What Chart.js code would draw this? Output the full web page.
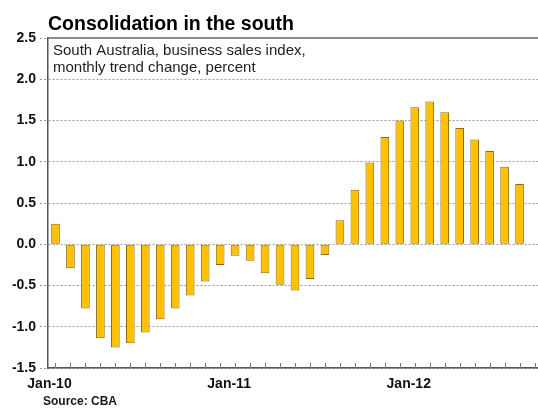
<!DOCTYPE html>
<html>
<head>
<meta charset="utf-8">
<script src="https://cdn.jsdelivr.net/npm/chart.js@4"></script>
<style>
html, body { margin: 0; padding: 0; overflow: hidden; background: #fff; }
canvas { display: block; }
</style>
</head>
<body>
<canvas id="c" width="542" height="408"></canvas>
<script>
// ---- data ----
const chartTitle = 'Consolidation in the south';
const subtitleLines = ['South Australia, business sales index,', 'monthly trend change, percent'];
const sourceText = 'Source: CBA';
const months = [
  'Jan-10','Feb-10','Mar-10','Apr-10','May-10','Jun-10','Jul-10','Aug-10','Sep-10','Oct-10','Nov-10','Dec-10',
  'Jan-11','Feb-11','Mar-11','Apr-11','May-11','Jun-11','Jul-11','Aug-11','Sep-11','Oct-11','Nov-11','Dec-11',
  'Jan-12','Feb-12','Mar-12','Apr-12','May-12','Jun-12','Jul-12','Aug-12','Sep-12'
];
const salesChange = [
  0.25, -0.29, -0.78, -1.14, -1.25, -1.20, -1.07, -0.91, -0.78, -0.62, -0.45, -0.25,
  -0.14, -0.20, -0.35, -0.49, -0.56, -0.42, -0.13, 0.29, 0.66, 0.99, 1.30, 1.50,
  1.66, 1.73, 1.60, 1.41, 1.27, 1.13, 0.94, 0.73, null
];
const yMin = -1.5, yMax = 2.5, yStep = 0.5;

const FONT = "'Liberation Sans', Arial, sans-serif";

const decor = {
  id: 'decor',
  afterDatasetsDraw(chart) {
    const {ctx, chartArea, scales} = chart;
    const x = scales.x;
    ctx.save();
    ctx.strokeStyle = '#666';
    ctx.lineWidth = 1.5;
    ctx.beginPath();
    ctx.moveTo(chartArea.left, chartArea.top);
    ctx.lineTo(chartArea.right, chartArea.top);
    ctx.stroke();
    ctx.strokeStyle = '#777';
    ctx.lineWidth = 1;
    for (let i = 0; i < x.ticks.length; i++) {
      const px = Math.round(x.getPixelForTick(i)) + 0.5;
      ctx.beginPath();
      ctx.moveTo(px, chartArea.bottom);
      ctx.lineTo(px, chartArea.bottom - 5);
      ctx.stroke();
    }
    ctx.restore();
  },
  afterDraw(chart) {
    const {ctx} = chart;
    ctx.save();
    ctx.textAlign = 'left';
    ctx.textBaseline = 'alphabetic';
    ctx.fillStyle = '#000';
    ctx.font = 'bold 19.5px ' + FONT;
    ctx.fillText(chartTitle, 48, 29.5);
    ctx.fillStyle = '#1e1e1e';
    ctx.font = '15px ' + FONT;
    ctx.fillText(subtitleLines[0], 53, 55);
    ctx.fillText(subtitleLines[1], 53, 72);
    ctx.fillStyle = '#1a1a1a';
    ctx.font = 'bold 12px ' + FONT;
    ctx.fillText(sourceText, 43, 405);
    ctx.restore();
  }
};

new Chart(document.getElementById('c'), {
  type: 'bar',
  data: {
    labels: months,
    datasets: [{
      data: salesChange,
      backgroundColor: '#FFC000',
      borderColor: '#8A6D12',
      borderWidth: 1,
      borderSkipped: false,
      barPercentage: 0.58,
      categoryPercentage: 1.0
    }]
  },
  options: {
    responsive: false,
    animation: false,
    layout: { padding: { top: 38, left: 0, right: 0, bottom: 0 } },
    plugins: { legend: { display: false }, tooltip: { enabled: false }, title: { display: false } },
    scales: {
      x: {
        offset: true,
        grid: { display: false },
        border: { display: true, color: '#555', width: 1.5 },
        ticks: {
          autoSkip: false,
          maxRotation: 0,
          minRotation: 0,
          padding: 0,
          labelOffset: -6,
          color: '#111',
          font: { family: FONT, size: 14, weight: 'bold' },
          callback: function (v, i) { const l = months[i]; return l.startsWith('Jan') ? l : ''; }
        },
        afterFit(scale) { scale.height = 40; }
      },
      y: {
        min: yMin,
        max: yMax,
        border: { display: true, color: '#555', width: 1.5, dash: [2, 2] },
        grid: {
          color: (c) => (c.tick && c.tick.value === yMax) ? 'rgba(0,0,0,0)' : '#9a9a9a',
          lineWidth: 1,
          drawTicks: true,
          tickLength: 8,
          tickColor: '#9a9a9a',
          tickBorderDash: [2, 2]
        },
        ticks: {
          stepSize: yStep,
          padding: 4,
          color: '#111',
          font: { family: FONT, size: 14, weight: 'bold' },
          callback: (v) => Number(v).toFixed(1)
        },
        afterFit(scale) { scale.width = 48; }
      }
    }
  },
  plugins: [decor]
});
</script>
</body>
</html>
